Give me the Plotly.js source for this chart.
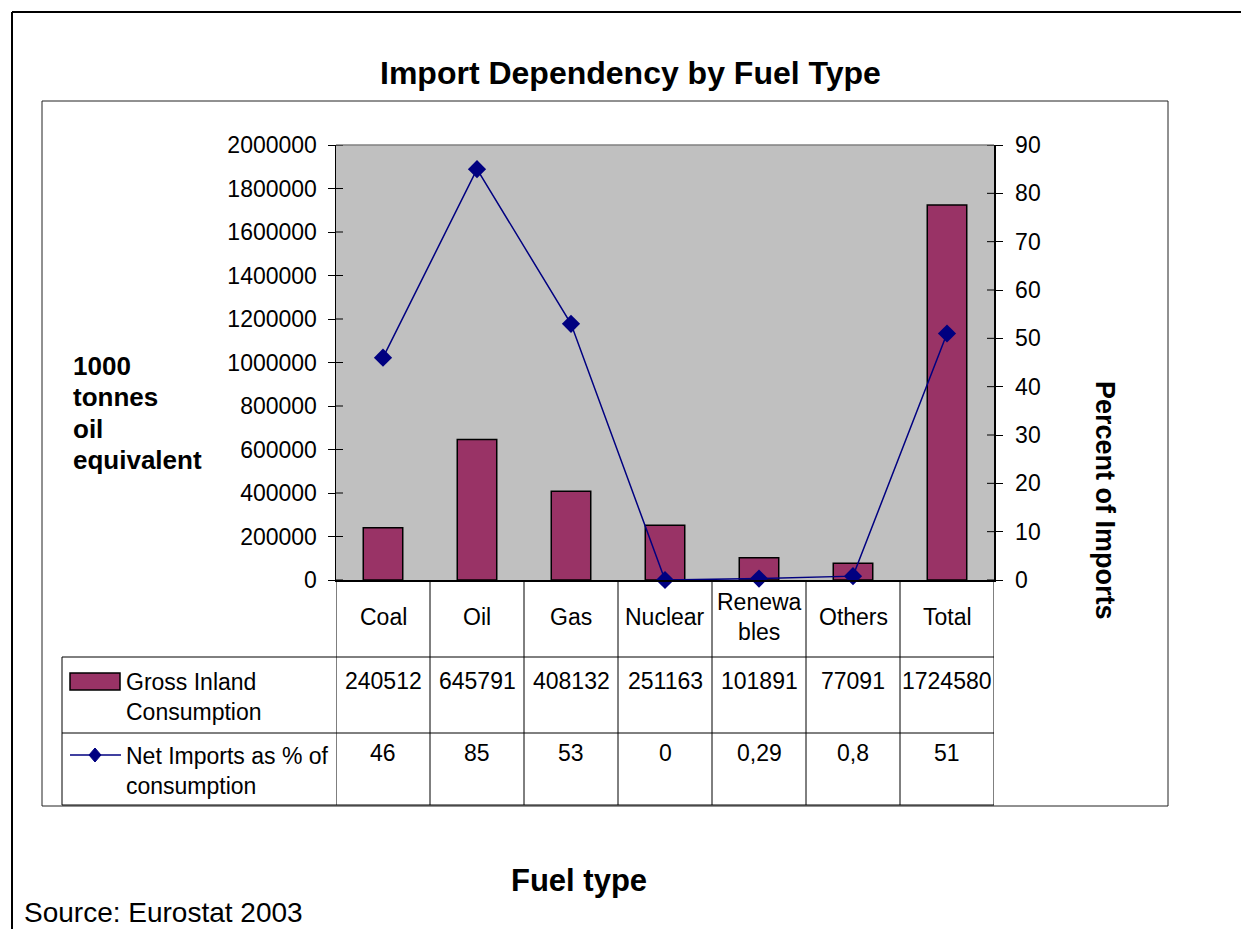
<!DOCTYPE html>
<html>
<head>
<meta charset="utf-8">
<script src="https://cdn.plot.ly/plotly-3.0.1.min.js"></script>
<style>html,body{margin:0;padding:0;background:#fff;}#chart{width:1241px;height:929px;}</style>
</head>
<body>
<div id="chart"></div>
<script>
// ---- data ----
const categories = ['Coal', 'Oil', 'Gas', 'Nuclear', 'Renewables', 'Others', 'Total'];
const categoryLabels = ['Coal', 'Oil', 'Gas', 'Nuclear', 'Renewa<br>bles', 'Others', 'Total'];
const grossInland = [240512, 645791, 408132, 251163, 101891, 77091, 1724580];
const netImportsPct = [46, 85, 53, 0, 0.29, 0.8, 51];
const leftTicks = [0, 200000, 400000, 600000, 800000, 1000000, 1200000, 1400000, 1600000, 1800000, 2000000];
const rightTicks = [0, 10, 20, 30, 40, 50, 60, 70, 80, 90];
const seriesNames = ['Gross Inland<br>Consumption', 'Net Imports as % of<br>consumption'];
const leftTitleLines = ['1000', 'tonnes', 'oil', 'equivalent'];

// ---- layout helpers (pixel -> paper) ----
const W = 1241, H = 929;
const L = 336, R = 994, T = 145, B = 580;
const px = x => (x - L) / (R - L);
const py = y => (B - y) / (B - T);
const FONT = 'Liberation Sans, Arial, sans-serif';
const BAR = '#993366', LINE = '#000080';

const traces = [
  {
    type: 'bar', x: categories, y: grossInland, name: 'Gross Inland Consumption',
    width: 0.42, marker: {color: BAR, line: {color: '#000', width: 1.5}},
    yaxis: 'y', hoverinfo: 'x+y'
  },
  {
    type: 'scatter', mode: 'lines+markers', x: categories, y: netImportsPct,
    name: 'Net Imports as % of consumption', yaxis: 'y2',
    line: {color: LINE, width: 1.5},
    marker: {symbol: 'diamond', size: 14, color: LINE},
    cliponaxis: false
  }
];

const shapes = [];
const ln = (x0, y0, x1, y1, color, width, xref, yref) => shapes.push({
  type: 'line', xref: xref || 'paper', yref: yref || 'paper',
  x0: x0, y0: y0, x1: x1, y1: y1, line: {color: color, width: width}
});

// outer frame
ln(px(12), py(12), px(12), py(929), '#000', 2);
ln(px(12), py(12), px(1241), py(12), '#000', 2);
// chart area box
shapes.push({type: 'rect', xref: 'paper', yref: 'paper', x0: px(42), x1: px(1168), y0: py(101), y1: py(806),
  line: {color: '#222', width: 1}, fillcolor: 'rgba(0,0,0,0)', layer: 'below'});
// plot area top border
ln(0, 1, 1, 1, '#808080', 1.5);
// inner tick parts (cross ticks)
leftTicks.forEach(v => ln(0, v, px(L + 7), v, '#000', 1, 'paper', 'y'));
rightTicks.forEach(v => ln(px(R - 7), v, 1, v, '#000', 1, 'paper', 'y2'));

// data table grid
for (let i = 0; i <= categories.length; i++) {
  shapes.push({type: 'line', xref: 'x', yref: 'paper', x0: i - 0.5, x1: i - 0.5, y0: py(580), y1: py(805),
    line: {color: '#000', width: 1}});
}
ln(px(62), py(657), px(62), py(805), '#000', 1);
[657, 733, 805].forEach(y => ln(px(62), py(y), px(R), py(y), '#000', 1));

// legend keys in table
shapes.push({type: 'rect', xref: 'paper', yref: 'paper', x0: px(70), x1: px(120), y0: py(690), y1: py(673),
  fillcolor: BAR, line: {color: '#000', width: 1.5}});
ln(px(70), py(755), px(121), py(755), LINE, 1.5);
shapes.push({type: 'path', xref: 'paper', yref: 'paper', fillcolor: LINE, line: {color: LINE, width: 1},
  path: 'M ' + px(95) + ' ' + py(748) + ' L ' + px(101) + ' ' + py(755) + ' L ' + px(95) + ' ' + py(762) +
        ' L ' + px(89) + ' ' + py(755) + ' Z'});

const ann = [];
const txt = (text, x, y, size, opts) => ann.push(Object.assign({
  text: text, x: x, y: y, xref: 'paper', yref: 'paper', showarrow: false,
  xanchor: 'center', yanchor: 'middle', font: {family: FONT, size: size, color: '#000'}
}, opts || {}));

txt('<b>Import Dependency by Fuel Type</b>', px(630), py(73), 32);
leftTitleLines.forEach((s, i) => txt('<b>' + s + '</b>', px(71), py(366 + i * 31.3), 26, {xanchor: 'left', align: 'left'}));
txt('<b>Percent of Imports</b>', px(1105), py(500), 27, {textangle: 90});
txt('<b>Fuel type</b>', px(579), py(880), 31);
txt('Source: Eurostat 2003', px(23), py(929), 28, {xanchor: 'left', yanchor: 'bottom', borderpad: 0});

// category row
categoryLabels.forEach((c, i) => txt(c, i, py(617), 23, {xref: 'x'}));
// value rows
grossInland.forEach((v, i) => txt(String(v), i, py(681), 23, {xref: 'x'}));
netImportsPct.forEach((v, i) => txt(String(v).replace('.', ','), i, py(753), 23, {xref: 'x'}));
// legend labels
txt(seriesNames[0], px(124), py(697), 23, {xanchor: 'left', align: 'left'});
txt(seriesNames[1], px(124), py(771), 23, {xanchor: 'left', align: 'left'});

const layout = {
  width: W, height: H,
  margin: {l: L, r: W - R, t: T, b: H - B, pad: 0},
  paper_bgcolor: '#fff', plot_bgcolor: '#C0C0C0',
  showlegend: false,
  font: {family: FONT, size: 22, color: '#000'},
  xaxis: {
    type: 'category', range: [-0.5, 6.5], showticklabels: false, ticks: '',
    showgrid: false, zeroline: false, showline: true, linecolor: '#000', linewidth: 1.5, fixedrange: true
  },
  yaxis: {
    range: [0, 2000000], tickvals: leftTicks, tickformat: 'd',
    ticks: 'outside', ticklen: 7, tickwidth: 1, tickcolor: '#000', ticklabelstandoff: 6,
    showgrid: false, zeroline: false, showline: true, linecolor: '#000', linewidth: 1.5,
    tickfont: {family: FONT, size: 23, color: '#000'}, fixedrange: true
  },
  yaxis2: {
    overlaying: 'y', side: 'right', range: [0, 90], tickvals: rightTicks,
    ticks: 'outside', ticklen: 7, tickwidth: 1, tickcolor: '#000', ticklabelstandoff: 8,
    showgrid: false, zeroline: false, showline: true, linecolor: '#000', linewidth: 1.5,
    tickfont: {family: FONT, size: 23, color: '#000'}, fixedrange: true
  },
  shapes: shapes,
  annotations: ann
};

Plotly.newPlot('chart', traces, layout, {displayModeBar: false, staticPlot: true});
</script>
</body>
</html>
